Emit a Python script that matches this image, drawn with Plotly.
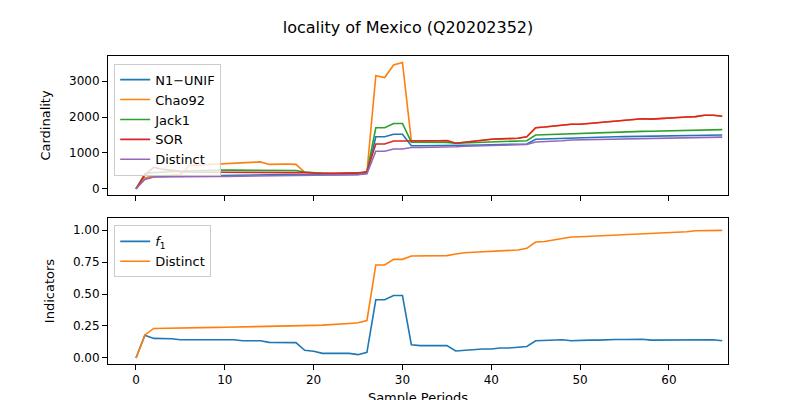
import plotly.graph_objects as go
from plotly.subplots import make_subplots

periods = list(range(67))

n1_unif = [0, 300, 340, 350, 355, 360, 365, 365, 370, 370,
           375, 375, 380, 380, 385, 390, 395, 395, 395, 390,
           390, 385, 390, 395, 400, 400, 430, 1450, 1450, 1520,
           1520, 1200, 1200, 1200, 1205, 1205, 1200, 1210, 1215, 1220,
           1225, 1230, 1235, 1240, 1250, 1380, 1390, 1400, 1410, 1420,
           1425, 1430, 1440, 1445, 1450, 1455, 1460, 1460, 1465, 1470,
           1475, 1480, 1485, 1490, 1495, 1495, 1500]
chao92 = [0, 300, 350, 360, 380, 400, 650, 660, 670, 680,
          690, 700, 710, 720, 750, 680, 690, 690, 680, 460,
          440, 430, 420, 430, 440, 420, 460, 3150, 3100, 3450,
          3520, 1330, 1330, 1330, 1330, 1335, 1270, 1300, 1330, 1350,
          1380, 1390, 1400, 1410, 1450, 1700, 1720, 1750, 1780, 1800,
          1800, 1820, 1850, 1870, 1880, 1900, 1920, 1950, 1940, 1960,
          1970, 1990, 2000, 2010, 2050, 2050, 2020]
jack1 = [0, 420, 450, 470, 480, 490, 500, 510, 510, 515,
         520, 520, 520, 525, 525, 520, 520, 515, 510, 470,
         440, 430, 420, 430, 440, 430, 460, 1700, 1700, 1820,
         1820, 1300, 1300, 1295, 1295, 1290, 1270, 1280, 1290, 1300,
         1305, 1310, 1315, 1320, 1340, 1500, 1510, 1520, 1530, 1540,
         1550, 1560, 1570, 1575, 1580, 1590, 1595, 1600, 1605, 1610,
         1615, 1620, 1625, 1630, 1640, 1650, 1650]
sor = [0, 390, 600, 540, 520, 480, 470, 470, 470, 470,
       470, 470, 470, 470, 470, 470, 470, 465, 460, 450,
       440, 430, 420, 430, 440, 430, 480, 1250, 1250, 1330,
       1330, 1340, 1340, 1340, 1340, 1345, 1270, 1300, 1330, 1350,
       1380, 1390, 1400, 1410, 1450, 1700, 1720, 1750, 1780, 1800,
       1800, 1820, 1850, 1870, 1880, 1900, 1920, 1950, 1940, 1960,
       1970, 1990, 2000, 2010, 2050, 2050, 2020]
distinct = [0, 260, 330, 335, 337, 338, 340, 342, 344, 345,
            346, 348, 350, 352, 353, 355, 358, 360, 362, 365,
            368, 372, 375, 385, 390, 395, 420, 1045, 1045, 1110,
            1110, 1150, 1150, 1150, 1150, 1155, 1170, 1185, 1190, 1195,
            1200, 1205, 1210, 1215, 1235, 1305, 1310, 1330, 1340, 1360,
            1365, 1370, 1375, 1380, 1385, 1390, 1395, 1400, 1405, 1405,
            1410, 1415, 1420, 1430, 1435, 1435, 1440]

f1_ind = [0, 0.177, 0.153, 0.153, 0.150, 0.143, 0.143, 0.143, 0.143, 0.143,
          0.143, 0.143, 0.135, 0.135, 0.135, 0.122, 0.122, 0.122, 0.120, 0.060,
          0.052, 0.036, 0.036, 0.036, 0.036, 0.026, 0.044, 0.455, 0.455, 0.488,
          0.488, 0.104, 0.097, 0.097, 0.097, 0.097, 0.055, 0.062, 0.068, 0.070,
          0.070, 0.078, 0.078, 0.086, 0.090, 0.135, 0.138, 0.143, 0.143, 0.135,
          0.140, 0.140, 0.140, 0.145, 0.145, 0.145, 0.145, 0.147, 0.140, 0.140,
          0.140, 0.140, 0.140, 0.140, 0.142, 0.142, 0.135]
distinct_ind = [0, 0.180, 0.231, 0.233, 0.234, 0.235, 0.236, 0.237, 0.238, 0.239,
                0.240, 0.241, 0.242, 0.243, 0.245, 0.246, 0.247, 0.248, 0.250, 0.252,
                0.255, 0.257, 0.260, 0.265, 0.270, 0.275, 0.293, 0.727, 0.727, 0.771,
                0.771, 0.797, 0.797, 0.797, 0.797, 0.800, 0.813, 0.823, 0.826, 0.830,
                0.834, 0.837, 0.840, 0.844, 0.857, 0.906, 0.910, 0.922, 0.930, 0.945,
                0.947, 0.950, 0.953, 0.957, 0.960, 0.964, 0.966, 0.968, 0.972, 0.976,
                0.979, 0.983, 0.987, 0.995, 0.997, 0.997, 0.997]

colors = ["#1f77b4", "#ff7f0e", "#2ca02c", "#d62728", "#9467bd"]

fig = make_subplots(rows=2, cols=1, shared_xaxes=True)
top = [("N1\u2212UNIF", n1_unif), ("Chao92", chao92), ("Jack1", jack1),
       ("SOR", sor), ("Distinct", distinct)]
for (name, vals), c in zip(top, colors):
    fig.add_trace(go.Scatter(x=periods, y=vals, mode="lines", name=name,
                             line=dict(color=c, width=1.6), legend="legend"),
                  row=1, col=1)
fig.add_trace(go.Scatter(x=periods, y=f1_ind, mode="lines", name="<i>f</i><sub>1</sub>",
                         line=dict(color=colors[0], width=1.6), legend="legend2"),
              row=2, col=1)
fig.add_trace(go.Scatter(x=periods, y=distinct_ind, mode="lines", name="Distinct",
                         line=dict(color=colors[1], width=1.6), legend="legend2"),
              row=2, col=1)

axis_style = dict(showline=True, linecolor="black", mirror=True, showgrid=False,
                  zeroline=False, ticks="outside", tickcolor="black", automargin=False,
                  tickfont=dict(size=12, color="black"))
fig.update_xaxes(**axis_style, range=[-3.15, 66.65], tickvals=[0, 10, 20, 30, 40, 50, 60],
                 domain=[0, 1])
fig.update_xaxes(title_text="Sample Periods", title_font=dict(size=13), title_standoff=6,
                 row=2, col=1)
fig.update_yaxes(**axis_style)
fig.update_yaxes(domain=[0.549, 1], range=[-170, 3700], tickvals=[0, 1000, 2000, 3000],
                 title_text="Cardinality", title_font=dict(size=13), row=1, col=1)
fig.update_yaxes(domain=[0, 0.474], range=[-0.047, 1.094], tickvals=[0, 0.25, 0.5, 0.75, 1.0],
                 tickformat=".2f", title_text="Indicators", title_font=dict(size=13), row=2, col=1)

legend_style = dict(bgcolor="rgba(255,255,255,0.8)", bordercolor="#cccccc", borderwidth=1,
                    font=dict(size=13, color="black"), xanchor="left", yanchor="top",
                    tracegroupgap=0)
fig.update_layout(
    width=800, height=400,
    plot_bgcolor="white", paper_bgcolor="white",
    font=dict(family="DejaVu Sans", color="black"),
    title=dict(text="locality of Mexico (Q20202352)", x=0.5, y=0.965, font=dict(size=16)),
    margin=dict(l=100, r=80, t=48, b=44, autoexpand=False),
    legend=dict(x=0.01, y=0.975, **legend_style),
    legend2=dict(x=0.01, y=0.45, **legend_style),
)

fig.write_html("out.html")
